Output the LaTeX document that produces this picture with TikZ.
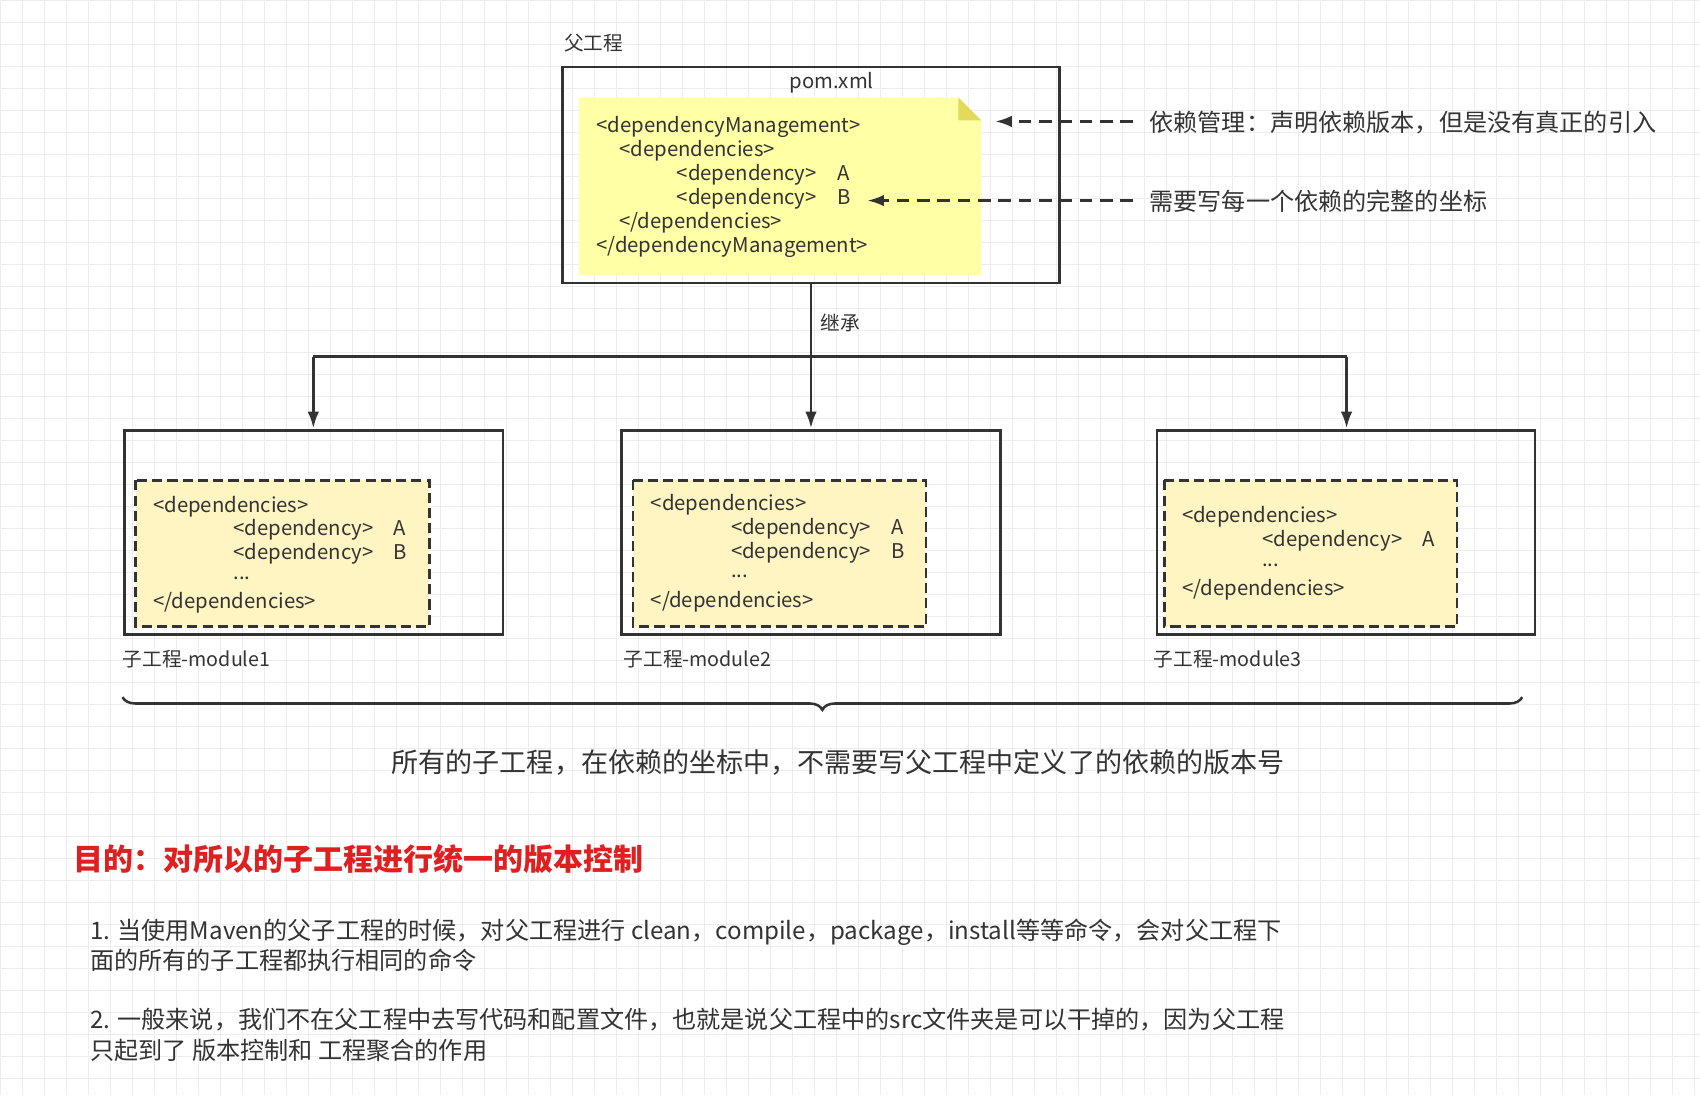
\documentclass[tikz,border=0pt]{standalone}
\usepackage{fontspec}
\setmainfont{Noto Sans CJK SC}
\usetikzlibrary{arrows.meta,decorations.pathreplacing}
\definecolor{noteyellow}{HTML}{FFFFA6}
\definecolor{depyellow}{HTML}{FFF5C2}
\definecolor{linegray}{HTML}{333333}
\definecolor{textgray}{HTML}{333333}
\definecolor{titlered}{HTML}{E02020}
\newcommand{\codesize}{\fontsize{16}{19}\selectfont}
\newcommand{\notesize}{\fontsize{19}{22}\selectfont}
\newcommand{\labelsize}{\fontsize{15.5}{18}\selectfont}

\begin{document}
\begin{tikzpicture}[x=0.3mm,y=-0.3mm,
		box/.style={draw=linegray, line width=2pt},
		depbox/.style={draw=linegray, fill=depyellow, line width=2pt, dash pattern=on 8pt off 4pt},
		code/.style={anchor=west, inner sep=0pt, text=textgray, font=\codesize},
		small/.style={anchor=west, inner sep=0pt, text=textgray, font=\labelsize},
		flow/.style={draw=linegray, line width=2pt, -{Latex[length=13pt,width=9pt]}},
		hint/.style={draw=linegray, line width=2pt, dash pattern=on 10pt off 6pt, -{Latex[length=13pt,width=9pt]}}]
		\useasboundingbox (0,0) rectangle (1568,1010);
		% background grid
		\foreach \i in {0,...,77} {
				\draw[black!7, line width=0.5pt] (\i*20.3,0) -- (\i*20.3,1010);
			}
		\foreach \i in {0,...,49} {
				\draw[black!7, line width=0.5pt] (0,\i*20.3) -- (1568,\i*20.3);
			}
		% parent project
		\node[small] (parentlabel) at (520,40) {父工程};
		\draw[box] (519,62) rectangle (977,261);
		\coordinate (parentbottom) at (748,261);
		\node[code, anchor=center] (pom) at (767,76) {pom.xml};
		\fill[noteyellow] (534,90) -- (884,90) -- (905,111) -- (905,254) -- (534,254) -- cycle;
		\fill[yellow!55!olive!60] (884,90) -- (905,111) -- (884,111) -- cycle;
		\node[code] (mgmt) at (550,117) {<dependencyManagement>};
		\node[code] (pdeps) at (571,139) {<dependencies>};
		\node[code] (pdepA) at (624,161) {<dependency>\quad A};
		\node[code] (pdepB) at (624,183) {<dependency>\quad B};
		\node[code] (pdepsend) at (571,205) {</dependencies>};
		\node[code] (mgmtend) at (550,228) {</dependencyManagement>};
		% hints
		\node[code, font=\notesize] (hintmgmt) at (1060,113) {依赖管理：声明依赖版本，但是没有真正的引入};
		\node[code, font=\notesize] (hintcoord) at (1060,186) {需要写每一个依赖的完整的坐标};
		\coordinate (mgmtfrom) at (1045,112);
		\coordinate (mgmtto) at (918,112);
		\coordinate (coordfrom) at (1045,185);
		\coordinate (coordto) at (800,185);
		\draw[hint] (mgmtfrom) -- (mgmtto);
		\draw[hint] (coordfrom) -- (coordto);
		% inheritance
		\coordinate (splitL) at (289,329);
		\coordinate (splitR) at (1242,329);
		\coordinate (in1) at (289,395);
		\coordinate (in2) at (748,395);
		\coordinate (in3) at (1242,395);
		\node[small] (inherit) at (757,298) {继承};
		\draw[flow] (parentbottom) -- (in2);
		\draw[line width=2pt, draw=linegray] (splitL) -- (splitR);
		\draw[flow] (splitL) -- (in1);
		\draw[flow] (splitR) -- (in3);
		% child modules
		\draw[box] (115,397) rectangle (464,585);
		\draw[depbox] (125,443) rectangle (396,578);
		\node[code] (c1deps) at (141,467) {<dependencies>};
		\node[code] (c1depA) at (215,489) {<dependency>\quad A};
		\node[code] (c1depB) at (215,511) {<dependency>\quad B};
		\node[code] (c1dots) at (215,533) {...};
		\node[code] (c1end) at (141,556) {</dependencies>};
		\node[small] (module1) at (113,608) {子工程-module1};
		\draw[box] (573,397) rectangle (923,585);
		\draw[depbox] (584,443) rectangle (854,578);
		\node[code] (c2deps) at (600,466) {<dependencies>};
		\node[code] (c2depA) at (674,488) {<dependency>\quad A};
		\node[code] (c2depB) at (674,510) {<dependency>\quad B};
		\node[code] (c2dots) at (674,532) {...};
		\node[code] (c2end) at (600,555) {</dependencies>};
		\node[small] (module2) at (575,608) {子工程-module2};
		\draw[box] (1067,397) rectangle (1416,585);
		\draw[depbox] (1074,443) rectangle (1344,578);
		\node[code] (c3deps) at (1090,477) {<dependencies>};
		\node[code] (c3depA) at (1164,499) {<dependency>\quad A};
		\node[code] (c3dots) at (1164,521) {...};
		\node[code] (c3end) at (1090,544) {</dependencies>};
		\node[small] (module3) at (1064,608) {子工程-module3};
		% summary
		\coordinate (braceL) at (113,643);
		\coordinate (braceR) at (1404,643);
		\draw[linegray, line width=2pt, decoration={brace, mirror, amplitude=10pt}, decorate] (braceL) -- (braceR);
		\node[text=textgray, font=\fontsize{21.3}{25}\selectfont] (summary) at (773,703) {所有的子工程，在依赖的坐标中，不需要写父工程中定义了的依赖的版本号};
		\node[anchor=west, inner sep=0pt, text=titlered, font=\fontsize{23.6}{28}\selectfont\bfseries] (goal) at (68,792) {目的：对所以的子工程进行统一的版本控制};
		\node[anchor=north west, inner sep=0pt, text=textgray, font=\fontsize{19}{24}\selectfont, align=left] (point1) at (83,847) {1. 当使用Maven的父子工程的时候，对父工程进行 clean，compile，package，install等等命令，会对父工程下\\面的所有的子工程都执行相同的命令};
		\node[anchor=north west, inner sep=0pt, text=textgray, font=\fontsize{19}{24}\selectfont, align=left] (point2) at (83,930) {2. 一般来说，我们不在父工程中去写代码和配置文件，也就是说父工程中的src文件夹是可以干掉的，因为父工程\\只起到了 版本控制和 工程聚合的作用};
	\end{tikzpicture}
\end{document}
